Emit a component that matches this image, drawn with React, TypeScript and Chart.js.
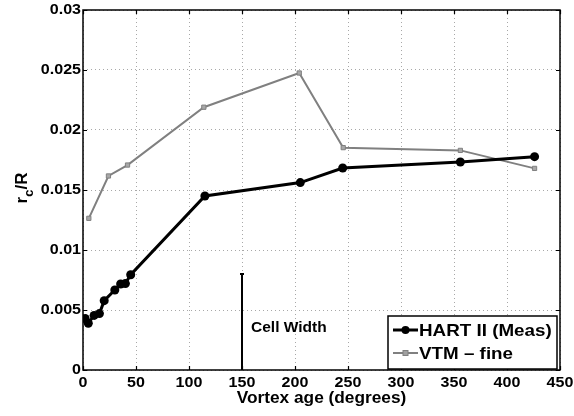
import React, { useEffect, useRef } from "react";
import { Chart, registerables } from "chart.js";

Chart.register(...registerables);

const hartAge = [2, 5, 10.5, 15.5, 20, 30, 35.5, 40, 45, 115, 205, 245, 356, 426];
const hartRc = [0.0043, 0.0039, 0.00455, 0.0047, 0.00578, 0.00667, 0.00717, 0.0072, 0.00794, 0.0145, 0.01562, 0.01683, 0.01733, 0.01778];

const vtmAge = [5.5, 24, 42, 114, 204, 245.5, 356, 426];
const vtmRc = [0.01264, 0.01617, 0.01708, 0.0219, 0.02475, 0.01853, 0.0183, 0.0168];

const cellAge = [150, 150];
const cellRc = [0, 0.008];

const xTickValues = [0, 50, 100, 150, 200, 250, 300, 350, 400, 450];
const xTickLabels = ["0", "50", "100", "150", "200", "250", "300", "350", "400", "450"];
const yTickValues = [0, 0.005, 0.01, 0.015, 0.02, 0.025, 0.03];
const yTickLabels = ["0", "0.005", "0.01", "0.015", "0.02", "0.025", "0.03"];

const seriesNames = ["HART II (Meas)", "VTM \u2013 fine"];
const xTitle = "Vortex age (degrees)";
const cellLabel = "Cell Width";

const FONT = "'Liberation Sans', Arial, sans-serif";

function drawText(
  ctx: CanvasRenderingContext2D,
  text: string,
  x: number,
  y: number,
  size: number,
  align: CanvasTextAlign,
  sx: number
) {
  ctx.save();
  ctx.translate(x, y);
  ctx.scale(sx, 1);
  ctx.font = `bold ${size}px ${FONT}`;
  ctx.textAlign = align;
  ctx.textBaseline = "middle";
  ctx.fillStyle = "#000";
  ctx.fillText(text, 0, 0);
  ctx.restore();
}

const decorPlugin = {
  id: "decor",
  afterDraw(chart: any) {
    const ctx = chart.ctx as CanvasRenderingContext2D;
    const { left, right, top, bottom } = chart.chartArea;
    const xs = chart.scales.x;
    const ys = chart.scales.y;
    ctx.save();
    // box
    ctx.strokeStyle = "#000";
    ctx.lineWidth = 1.5;
    ctx.strokeRect(left, top, right - left, bottom - top);
    // inward ticks
    ctx.lineWidth = 1.2;
    ctx.beginPath();
    xTickValues.forEach((v) => {
      const px = Math.round(xs.getPixelForValue(v)) + 0.5;
      ctx.moveTo(px, bottom);
      ctx.lineTo(px, bottom - 4);
      ctx.moveTo(px, top);
      ctx.lineTo(px, top + 4);
    });
    yTickValues.forEach((v) => {
      const py = Math.round(ys.getPixelForValue(v)) + 0.5;
      ctx.moveTo(left, py);
      ctx.lineTo(left + 4, py);
      ctx.moveTo(right, py);
      ctx.lineTo(right - 4, py);
    });
    ctx.stroke();

    // tick labels
    xTickValues.forEach((v, i) => {
      drawText(ctx, xTickLabels[i], xs.getPixelForValue(v), bottom + 13, 15, "center", 1.07);
    });
    yTickValues.forEach((v, i) => {
      drawText(ctx, yTickLabels[i], left - 2, ys.getPixelForValue(v), 15, "right", 1.07);
    });

    // cell width label
    drawText(ctx, cellLabel, xs.getPixelForValue(158.5), ys.getPixelForValue(0.0035), 15.5, "left", 1.0);

    // x title
    drawText(ctx, xTitle, (left + right) / 2, bottom + 29, 16, "center", 1.08);

    // y title r_c/R
    ctx.save();
    ctx.translate(22, (top + bottom) / 2 - 2);
    ctx.rotate(-Math.PI / 2);
    ctx.textAlign = "left";
    ctx.textBaseline = "alphabetic";
    ctx.fillStyle = "#000";
    const big = `bold 17px ${FONT}`;
    const small = `bold 13px ${FONT}`;
    ctx.font = big;
    const wr = ctx.measureText("r").width;
    const wR = ctx.measureText("/R").width;
    ctx.font = small;
    const wc = ctx.measureText("c").width;
    const total = wr + wc + wR;
    let x0 = -total / 2;
    ctx.font = big;
    ctx.fillText("r", x0, 5);
    x0 += wr;
    ctx.font = small;
    ctx.fillText("c", x0, 11);
    x0 += wc;
    ctx.font = big;
    ctx.fillText("/R", x0, 5);
    ctx.restore();

    // legend
    const lw = 169;
    const lh = 53;
    const lx = right - 3 - lw;
    const ly = bottom - 1 - lh;
    ctx.fillStyle = "#fff";
    ctx.fillRect(lx, ly, lw, lh);
    ctx.strokeStyle = "#000";
    ctx.lineWidth = 1.5;
    ctx.strokeRect(lx, ly, lw, lh);
    const row1 = ly + 14;
    const row2 = ly + 37;
    ctx.strokeStyle = "#000";
    ctx.lineWidth = 3;
    ctx.beginPath();
    ctx.moveTo(lx + 5, row1);
    ctx.lineTo(lx + 30, row1);
    ctx.stroke();
    ctx.fillStyle = "#000";
    ctx.beginPath();
    ctx.arc(lx + 17.5, row1, 4, 0, Math.PI * 2);
    ctx.fill();
    ctx.strokeStyle = "#808080";
    ctx.lineWidth = 2;
    ctx.beginPath();
    ctx.moveTo(lx + 5, row2);
    ctx.lineTo(lx + 30, row2);
    ctx.stroke();
    ctx.fillStyle = "#a0a0a0";
    ctx.lineWidth = 1;
    ctx.fillRect(lx + 15, row2 - 2.5, 5, 5);
    ctx.strokeRect(lx + 15, row2 - 2.5, 5, 5);
    drawText(ctx, seriesNames[0], lx + 31, row1 + 1, 16.5, "left", 1.14);
    drawText(ctx, seriesNames[1], lx + 31, row2 + 1, 16.5, "left", 1.14);
    ctx.restore();
  },
};

export default function App() {
  const ref = useRef<HTMLCanvasElement>(null);
  useEffect(() => {
    if (!ref.current) return;
    const chart = new Chart(ref.current, {
      type: "line",
      data: {
        datasets: [
          {
            label: seriesNames[0],
            data: hartAge.map((a, i) => ({ x: a, y: hartRc[i] })),
            borderColor: "#000",
            backgroundColor: "#000",
            borderWidth: 3,
            pointRadius: 4.5,
            pointStyle: "circle",
            pointBorderWidth: 0,
            order: 1,
          },
          {
            label: seriesNames[1],
            data: vtmAge.map((a, i) => ({ x: a, y: vtmRc[i] })),
            borderColor: "#808080",
            backgroundColor: "#a8a8a8",
            borderWidth: 2,
            pointRadius: 3,
            pointStyle: "rect",
            pointBorderWidth: 1,
            pointBorderColor: "#808080",
            order: 2,
          },
          {
            label: "cell",
            data: cellAge.map((a, i) => ({ x: a, y: cellRc[i] })),
            borderColor: "#000",
            backgroundColor: "#000",
            borderWidth: 2,
            pointRadius: [0, 2],
            pointStyle: "line",
            pointBorderWidth: 2,
            order: 0,
          },
        ],
      },
      options: {
        responsive: false,
        animation: false,
        devicePixelRatio: 1,
        layout: { padding: { top: 10, right: 14, left: 0, bottom: 0 } },
        plugins: { legend: { display: false }, tooltip: { enabled: false } },
        scales: {
          x: {
            type: "linear",
            min: 0,
            max: 450,
            afterFit: (s: any) => {
              s.height = 46;
            },
            afterBuildTicks: (s: any) => {
              s.ticks = xTickValues.map((v) => ({ value: v }));
            },
            grid: { color: "#a8a8a8", drawTicks: false, lineWidth: 1 },
            border: { display: false, dash: [1, 3] },
            ticks: { display: false },
          },
          y: {
            type: "linear",
            min: 0,
            max: 0.03,
            afterFit: (s: any) => {
              s.width = 83;
            },
            afterBuildTicks: (s: any) => {
              s.ticks = yTickValues.map((v) => ({ value: v }));
            },
            grid: { color: "#a8a8a8", drawTicks: false, lineWidth: 1 },
            border: { display: false, dash: [1, 3] },
            ticks: { display: false },
          },
        },
      },
      plugins: [decorPlugin],
    } as any);
    return () => chart.destroy();
  }, []);
  return (
    <div style={{ position: "fixed", left: 0, top: 0, width: 574, height: 416, background: "#fff" }}>
      <canvas ref={ref} width={574} height={416} style={{ display: "block" }} />
    </div>
  );
}
